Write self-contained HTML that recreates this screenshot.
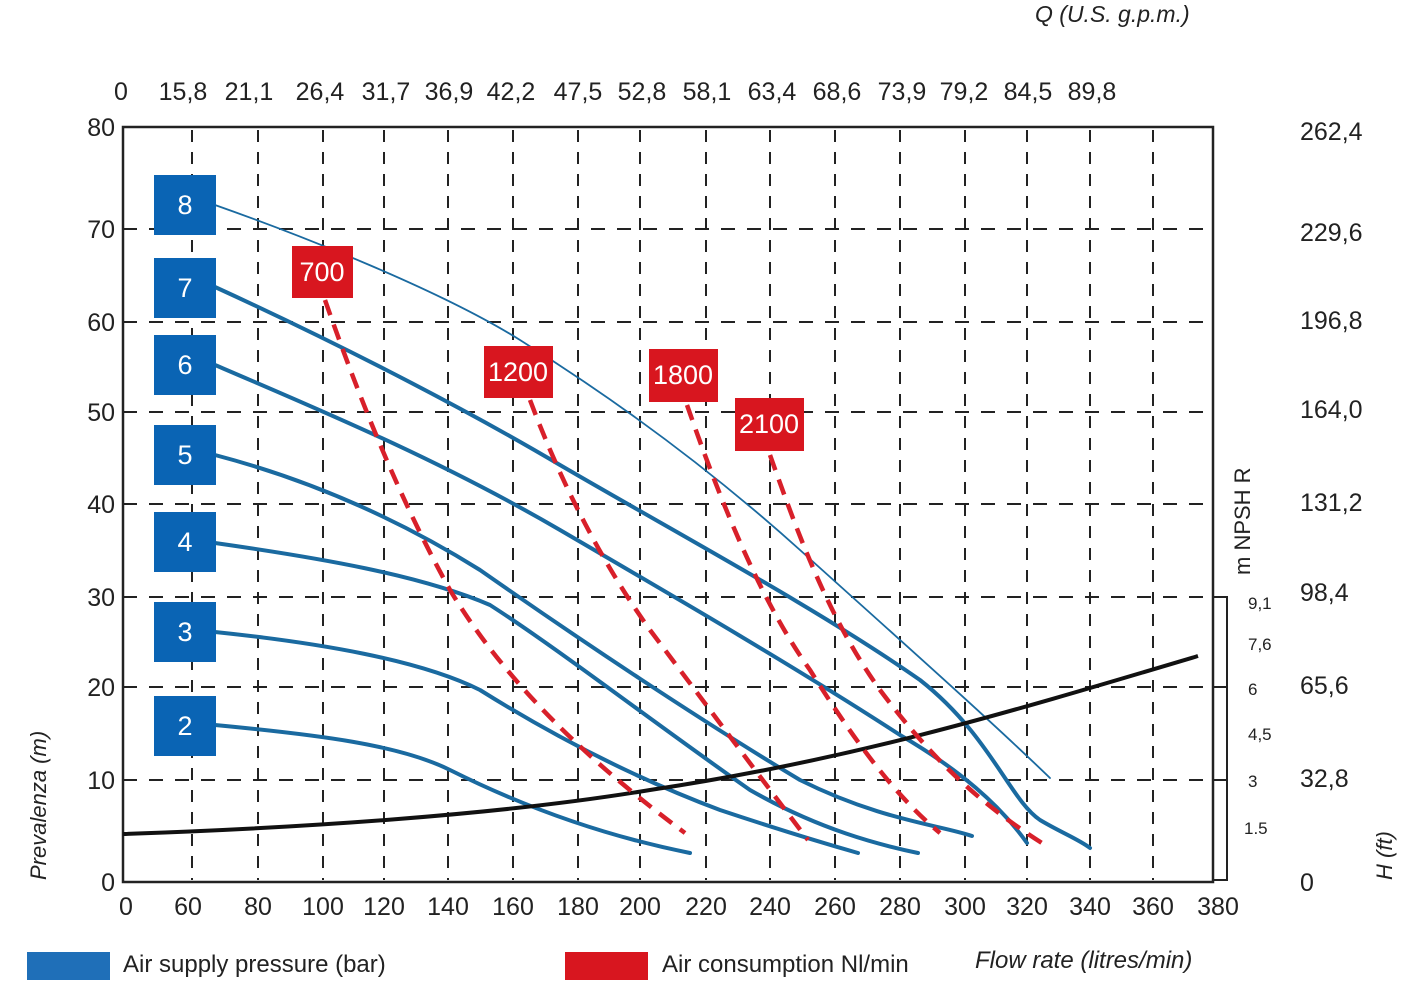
<!DOCTYPE html>
<html><head><meta charset="utf-8"><style>
body{margin:0;background:#fff;}
svg{display:block;}
text{font-family:"Liberation Sans",sans-serif;fill:#222;}
</style></head><body>
<svg width="1428" height="1000" viewBox="0 0 1428 1000" xmlns="http://www.w3.org/2000/svg">
<g stroke="#222" stroke-width="2" stroke-dasharray="14,12" fill="none">
<line x1="123" y1="229" x2="1213" y2="229"/><line x1="123" y1="322" x2="1213" y2="322"/>
<line x1="123" y1="412" x2="1213" y2="412"/><line x1="123" y1="504" x2="1213" y2="504"/>
<line x1="123" y1="597" x2="1213" y2="597"/><line x1="123" y1="687" x2="1213" y2="687"/>
<line x1="123" y1="780" x2="1213" y2="780"/>
</g>
<g stroke="#222" stroke-width="2" stroke-dasharray="12,10" fill="none">
<line x1="192" y1="130" x2="192" y2="880"/><line x1="258" y1="130" x2="258" y2="880"/>
<line x1="323" y1="130" x2="323" y2="880"/><line x1="384" y1="130" x2="384" y2="880"/>
<line x1="448" y1="130" x2="448" y2="880"/><line x1="513" y1="130" x2="513" y2="880"/>
<line x1="578" y1="130" x2="578" y2="880"/><line x1="640" y1="130" x2="640" y2="880"/>
<line x1="706" y1="130" x2="706" y2="880"/><line x1="770" y1="130" x2="770" y2="880"/>
<line x1="835" y1="130" x2="835" y2="880"/><line x1="900" y1="130" x2="900" y2="880"/>
<line x1="965" y1="130" x2="965" y2="880"/><line x1="1027" y1="130" x2="1027" y2="880"/>
<line x1="1090" y1="130" x2="1090" y2="880"/><line x1="1153" y1="130" x2="1153" y2="880"/>
</g>
<rect x="123" y="127" width="1090" height="755" fill="none" stroke="#222" stroke-width="2.5"/>
<path d="M1213 597 H1227 V880 H1213 M1213 687 H1227 M1213 780 H1227" fill="none" stroke="#222" stroke-width="2"/>
<g fill="none" stroke="#1a6aa0" stroke-width="4" stroke-linecap="round">
<path stroke-width="1.8" d="M215 205 C300 235 440 290 520 340 C600 390 700 460 800 550 C900 640 990 720 1050 778"/>
<path d="M215 287 C320 335 450 400 560 465 C680 535 820 610 920 680 C990 735 1010 800 1040 820 C1060 832 1080 840 1090 848"/>
<path d="M215 365 C320 410 440 460 560 530 C680 600 800 670 900 735 C960 770 1000 805 1027 843"/>
<path d="M215 455 C310 480 400 520 480 570 C580 640 700 720 800 780 C880 820 940 825 972 836"/>
<path d="M215 543 C320 558 420 575 490 605 C560 650 650 720 750 790 C820 830 880 845 918 853"/>
<path d="M215 632 C320 643 420 660 480 690 C560 740 640 780 720 810 C780 830 830 845 858 853"/>
<path d="M215 725 C320 735 400 745 450 770 C520 805 600 835 690 853"/>
</g>
<path d="M123 834 C300 828 500 815 650 790 C850 760 1000 715 1198 656" fill="none" stroke="#111" stroke-width="4"/>
<g fill="none" stroke="#d8202a" stroke-width="4.5" stroke-dasharray="16,10">
<path d="M325 300 C360 400 400 500 450 590 C510 690 600 770 685 833"/>
<path d="M530 400 C560 480 600 560 650 630 C710 710 770 790 808 840"/>
<path d="M687 405 C720 500 760 600 810 670 C860 750 900 800 940 833"/>
<path d="M770 455 C800 540 830 620 880 690 C940 770 990 810 1045 845"/>
</g>
<g fill="#0a64b4">
<rect x="154" y="175" width="62" height="60"/><rect x="154" y="258" width="62" height="60"/>
<rect x="154" y="335" width="62" height="60"/><rect x="154" y="425" width="62" height="60"/>
<rect x="154" y="512" width="62" height="60"/><rect x="154" y="602" width="62" height="60"/>
<rect x="154" y="696" width="62" height="60"/>
</g>
<g fill="#d8161f">
<rect x="292" y="246" width="61" height="52"/><rect x="484" y="346" width="69" height="52"/>
<rect x="649" y="349" width="69" height="53"/><rect x="735" y="398" width="69" height="53"/>
</g>
<g font-size="27" text-anchor="middle">
<text x="185" y="214" style="fill:#fff">8</text><text x="185" y="297" style="fill:#fff">7</text>
<text x="185" y="374" style="fill:#fff">6</text><text x="185" y="464" style="fill:#fff">5</text>
<text x="185" y="551" style="fill:#fff">4</text><text x="185" y="641" style="fill:#fff">3</text>
<text x="185" y="735" style="fill:#fff">2</text>
<text x="322" y="281" style="fill:#fff">700</text><text x="518" y="381" style="fill:#fff">1200</text>
<text x="683" y="384" style="fill:#fff">1800</text><text x="769" y="433" style="fill:#fff">2100</text>
</g>
<g font-size="25" text-anchor="end">
<text x="115" y="136">80</text><text x="115" y="238">70</text><text x="115" y="331">60</text>
<text x="115" y="421">50</text><text x="115" y="513">40</text><text x="115" y="606">30</text>
<text x="115" y="696">20</text><text x="115" y="789">10</text><text x="115" y="891">0</text>
</g>
<g font-size="25" text-anchor="middle">
<text x="126" y="915">0</text><text x="188" y="915">60</text><text x="258" y="915">80</text>
<text x="323" y="915">100</text><text x="384" y="915">120</text><text x="448" y="915">140</text>
<text x="513" y="915">160</text><text x="578" y="915">180</text><text x="640" y="915">200</text>
<text x="706" y="915">220</text><text x="770" y="915">240</text><text x="835" y="915">260</text>
<text x="900" y="915">280</text><text x="965" y="915">300</text><text x="1027" y="915">320</text>
<text x="1090" y="915">340</text><text x="1153" y="915">360</text><text x="1218" y="915">380</text>
<text x="121" y="100">0</text><text x="183" y="100">15,8</text><text x="249" y="100">21,1</text>
<text x="320" y="100">26,4</text><text x="386" y="100">31,7</text><text x="449" y="100">36,9</text>
<text x="511" y="100">42,2</text><text x="578" y="100">47,5</text><text x="642" y="100">52,8</text>
<text x="707" y="100">58,1</text><text x="772" y="100">63,4</text><text x="837" y="100">68,6</text>
<text x="902" y="100">73,9</text><text x="964" y="100">79,2</text><text x="1028" y="100">84,5</text>
<text x="1092" y="100">89,8</text>
</g>
<g font-size="25">
<text x="1300" y="140">262,4</text><text x="1300" y="241">229,6</text><text x="1300" y="329">196,8</text>
<text x="1300" y="418">164,0</text><text x="1300" y="511">131,2</text><text x="1300" y="601">98,4</text>
<text x="1300" y="694">65,6</text><text x="1300" y="787">32,8</text><text x="1300" y="891">0</text>
</g>
<g font-size="17">
<text x="1248" y="609">9,1</text><text x="1248" y="650">7,6</text><text x="1248" y="695">6</text>
<text x="1248" y="740">4,5</text><text x="1248" y="787">3</text><text x="1244" y="834">1.5</text>
</g>
<text font-size="22" transform="translate(1250,575) rotate(-90)">m NPSH R</text>
<text font-size="22" font-style="italic" transform="translate(1392,880) rotate(-90)">H (ft)</text>
<text font-size="22" font-style="italic" transform="translate(46,880) rotate(-90)">Prevalenza (m)</text>
<text font-size="23" font-style="italic" x="1035" y="22">Q (U.S. g.p.m.)</text>
<text font-size="24" font-style="italic" x="975" y="968">Flow rate (litres/min)</text>
<rect x="27" y="952" width="83" height="28" fill="#1f6fb8"/>
<text font-size="24" x="123" y="972">Air supply pressure (bar)</text>
<rect x="565" y="952" width="83" height="28" fill="#d8161f"/>
<text font-size="24" x="662" y="972">Air consumption Nl/min</text>
</svg>
</body></html>
